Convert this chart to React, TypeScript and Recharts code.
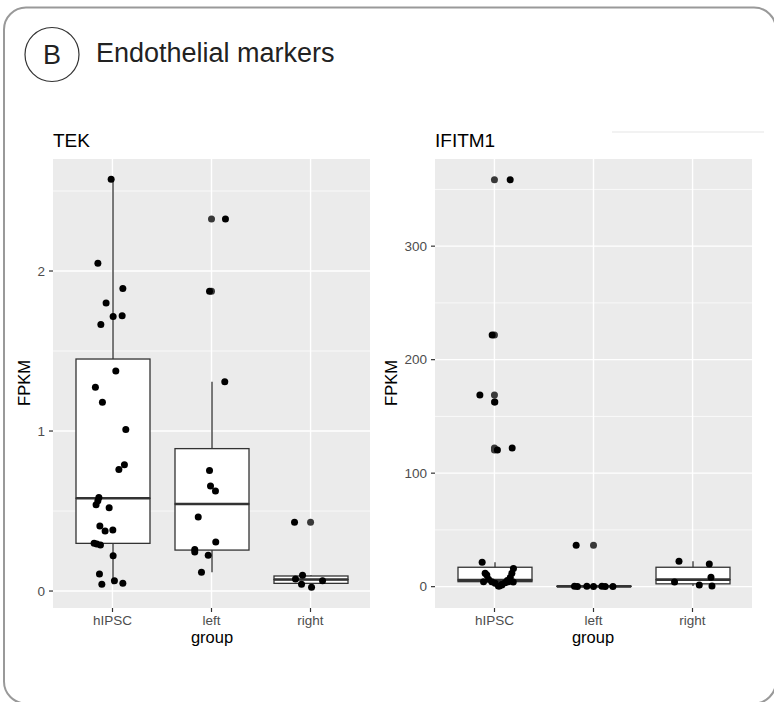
import React from "react";
import { ComposedChart, Bar, Scatter, XAxis, YAxis, CartesianGrid } from "recharts";

const FONT = 'Helvetica, "Liberation Sans", Arial, sans-serif';
const PANEL = "#EBEBEB";
const LINE = "#333333";

const GROUPS = ["hIPSC", "left", "right"];

// TEK
const TEK_TICKS = [0, 1, 2];
const TEK_MINOR = [0.5, 1.5, 2.5];
const TEK_LO = [0.042, 0.117, 0.023];
const TEK_Q1 = [0.298, 0.256, 0.048];
const TEK_MED = [0.58, 0.544, 0.072];
const TEK_Q3 = [1.45, 0.89, 0.094];
const TEK_HI = [2.573, 1.308, 0.098];
const TEK_VALUES = [
  [2.573, 2.048, 1.89, 1.8, 1.715, 1.72, 1.665, 1.375, 1.273, 1.18, 1.01, 0.79, 0.76, 0.585, 0.565, 0.54, 0.52, 0.406, 0.375, 0.381, 0.298, 0.294, 0.288, 0.22, 0.106, 0.064, 0.048, 0.042],
  [2.325, 1.873, 1.308, 0.754, 0.656, 0.625, 0.4625, 0.306, 0.26, 0.244, 0.223, 0.117],
  [0.43, 0.098, 0.075, 0.042, 0.023, 0.064],
];
const TEK_JITTER = [
  [-0.013, -0.147, 0.105, -0.064, 0.007, 0.098, -0.117, 0.034, -0.172, -0.101, 0.135, 0.121, 0.065, -0.137, -0.147, -0.165, -0.033, -0.127, -0.074, 0.004, -0.185, -0.158, -0.121, 0.007, -0.131, 0.02, 0.105, -0.107],
  [0.141, -0.02, 0.134, -0.02, -0.01, 0.04, -0.134, 0.043, -0.169, -0.169, -0.033, -0.101],
  [-0.162, -0.081, -0.152, -0.091, 0.01, 0.121],
];
const TEK_OUTLIERS = [[], [2.325, 1.873], [0.43]];

// IFITM1
const IF_TICKS = [0, 100, 200, 300];
const IF_MINOR = [50, 150, 250, 350];
const IF_LO = [0.5, 0.1, 0.6];
const IF_Q1 = [4.4, 0.15, 2.5];
const IF_MED = [5.9, 0.25, 6.2];
const IF_Q3 = [17.1, 0.45, 17.1];
const IF_HI = [21.5, 0.5, 22.4];
const IF_VALUES = [
  [358.6, 221.8, 168.9, 162.7, 122.2, 120.4, 21.5, 15.9, 11.8, 11.8, 10.3, 8.0, 6.5, 5.5, 4.4, 4.4, 4.4, 4.0, 3.5, 3.0, 2.0, 1.5, 0.6, 0.5],
  [36.5, 0.3, 0.2, 0.4, 0.1, 0.3, 0.2, 0.1],
  [22.4, 20, 4.1, 8.3, 1.5, 0.6],
];
const IF_JITTER = [
  [0.159, -0.023, -0.147, 0.004, 0.179, 0.03, -0.124, 0.192, -0.094, 0.176, -0.077, 0.16, -0.06, 0.13, -0.11, -0.027, 0.14, 0.19, 0.108, 0.007, 0.075, 0.074, 0.04, 0.05],
  [-0.175, -0.192, -0.162, -0.067, 0, 0.085, 0.118, 0.196],
  [-0.137, 0.169, -0.182, 0.186, 0.068, 0.196],
];
const IF_OUTLIERS = [[358.6, 221.8, 168.9, 162.7, 122.2, 120.4], [36.5], []];

type Pt = { x: number; y: number };

const jittered = (values: number[][], jitter: number[][]): Pt[] =>
  values.flatMap((vals, i) => vals.map((v, j) => ({ x: i + 1 + jitter[i][j], y: v })));

const centred = (values: number[][]): Pt[] =>
  values.flatMap((vals, i) => vals.map((v) => ({ x: i + 1, y: v })));

const Empty = () => <g />;

const Whisker = (p: any) => (
  <line x1={p.x + p.width / 2} x2={p.x + p.width / 2} y1={p.y} y2={p.y + p.height} stroke={LINE} strokeWidth={1.3} />
);

const LowerBox = (p: any) => (
  <rect x={p.x} y={p.y} width={p.width} height={p.height} fill="#fff" stroke={LINE} strokeWidth={1.3} />
);

const UpperBox = (p: any) => (
  <g>
    <rect x={p.x} y={p.y} width={p.width} height={p.height} fill="#fff" stroke={LINE} strokeWidth={1.3} />
    <line x1={p.x} x2={p.x + p.width} y1={p.y + p.height} y2={p.y + p.height} stroke={LINE} strokeWidth={2.6} />
  </g>
);

const tickStyle = { fontSize: 13.5, fill: "#4D4D4D", fontFamily: FONT };

function BoxPanel(props: {
  lo: number[];
  q1: number[];
  med: number[];
  q3: number[];
  hi: number[];
  values: number[][];
  jitter: number[][];
  outliers: number[][];
  domain: [number, number];
  ticks: number[];
  minor: number[];
  yWidth: number;
  right: number;
}) {
  const { lo, q1, med, q3, hi } = props;
  const data = GROUPS.map((g, i) => ({
    group: g,
    base: lo[i],
    lowW: q1[i] - lo[i],
    lowBox: med[i] - q1[i],
    upBox: q3[i] - med[i],
    upW: hi[i] - q3[i],
  }));

  return (
    <ComposedChart
      width={380}
      height={660}
      data={data}
      margin={{ top: 159, right: props.right, bottom: 22, left: 0 }}
    >
      <CartesianGrid xAxisId="num" fill={PANEL} stroke="#fff" strokeWidth={0.7} vertical={false} horizontalValues={props.minor} />
      <CartesianGrid xAxisId="num" stroke="#fff" strokeWidth={1.4} horizontalValues={props.ticks} verticalValues={[1, 2, 3]} />
      <XAxis
        xAxisId="cat"
        dataKey="group"
        type="category"
        padding={{ left: 10, right: 10 }}
        height={30}
        interval={0}
        tick={tickStyle}
        tickSize={4}
        tickMargin={3}
        tickLine={{ stroke: LINE, strokeWidth: 1.2 }}
        axisLine={false}
      />
      <XAxis xAxisId="num" dataKey="x" type="number" domain={[0.4, 3.6]} allowDataOverflow hide />
      <YAxis
        dataKey="y"
        type="number"
        domain={props.domain}
        allowDataOverflow
        ticks={props.ticks}
        interval={0}
        width={props.yWidth}
        tick={tickStyle}
        tickSize={4}
        tickMargin={4}
        tickLine={{ stroke: LINE, strokeWidth: 1.2 }}
        axisLine={false}
      />
      <Bar xAxisId="cat" dataKey="base" stackId="box" barSize={74} shape={<Empty />} isAnimationActive={false} />
      <Bar xAxisId="cat" dataKey="lowW" stackId="box" barSize={74} shape={<Whisker />} isAnimationActive={false} />
      <Bar xAxisId="cat" dataKey="lowBox" stackId="box" barSize={74} shape={<LowerBox />} isAnimationActive={false} />
      <Bar xAxisId="cat" dataKey="upBox" stackId="box" barSize={74} shape={<UpperBox />} isAnimationActive={false} />
      <Bar xAxisId="cat" dataKey="upW" stackId="box" barSize={74} shape={<Whisker />} isAnimationActive={false} />
      <Scatter
        xAxisId="num"
        data={centred(props.outliers)}
        isAnimationActive={false}
        shape={(p: any) => <circle cx={p.cx} cy={p.cy} r={3.5} fill="#383838" />}
      />
      <Scatter
        xAxisId="num"
        data={jittered(props.values, props.jitter)}
        isAnimationActive={false}
        shape={(p: any) => <circle cx={p.cx} cy={p.cy} r={3.5} fill="#000" />}
      />
    </ComposedChart>
  );
}

export default function App() {
  return (
    <div
      style={{
        position: "fixed",
        left: 0,
        top: 0,
        width: 774,
        height: 702,
        overflow: "hidden",
        background: "#fff",
        fontFamily: FONT,
      }}
    >
      <div style={{ position: "absolute", left: 0, top: 0 }}>
        <BoxPanel
          lo={TEK_LO}
          q1={TEK_Q1}
          med={TEK_MED}
          q3={TEK_Q3}
          hi={TEK_HI}
          values={TEK_VALUES}
          jitter={TEK_JITTER}
          outliers={TEK_OUTLIERS}
          domain={[-0.106, 2.7]}
          ticks={TEK_TICKS}
          minor={TEK_MINOR}
          yWidth={53}
          right={10}
        />
      </div>
      <div style={{ position: "absolute", left: 380, top: 0 }}>
        <BoxPanel
          lo={IF_LO}
          q1={IF_Q1}
          med={IF_MED}
          q3={IF_Q3}
          hi={IF_HI}
          values={IF_VALUES}
          jitter={IF_JITTER}
          outliers={IF_OUTLIERS}
          domain={[-18.8, 376.8]}
          ticks={IF_TICKS}
          minor={IF_MINOR}
          yWidth={55}
          right={8}
        />
      </div>
      <svg
        width={774}
        height={702}
        style={{ position: "absolute", left: 0, top: 0, pointerEvents: "none" }}
        fontFamily={FONT}
      >
        <rect x={4} y={7.5} width={772} height={696} rx={22} fill="none" stroke="#999" strokeWidth={2} />
        <line x1={612} x2={764} y1={132} y2={132} stroke="#f2f2f2" strokeWidth={2} />
        <circle cx={52} cy={54.5} r={27} fill="none" stroke="#333" strokeWidth={1.2} />
        <text x={52} y={63.5} textAnchor="middle" fontSize={27} fill="#222">B</text>
        <text x={96} y={62} fontSize={27} fill="#222">Endothelial markers</text>
        <text x={53} y={147} fontSize={19} fill="#000">TEK</text>
        <text x={435} y={147} fontSize={19} fill="#000">IFITM1</text>
        <text x={30} y={383} fontSize={16.5} textAnchor="middle" transform="rotate(-90 30 383)" fill="#000">FPKM</text>
        <text x={397} y={383} fontSize={16.5} textAnchor="middle" transform="rotate(-90 397 383)" fill="#000">FPKM</text>
        <text x={212} y={643} fontSize={16.5} textAnchor="middle" fill="#000">group</text>
        <text x={593} y={643} fontSize={16.5} textAnchor="middle" fill="#000">group</text>
      </svg>
    </div>
  );
}
